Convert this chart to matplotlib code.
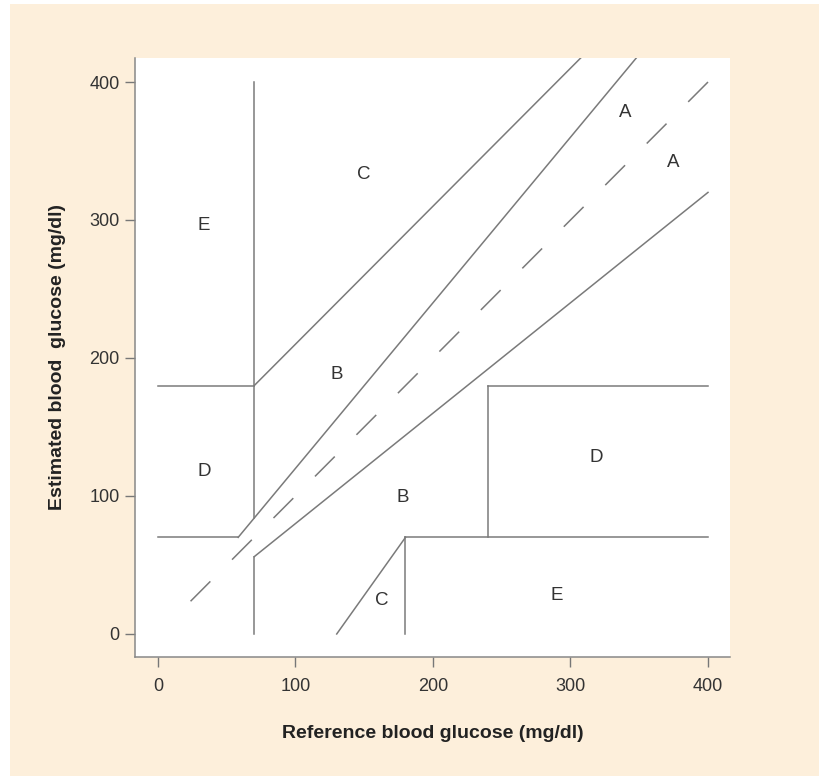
import numpy as np
import matplotlib
matplotlib.use("Agg")
import matplotlib.pyplot as plt
from matplotlib.patches import Rectangle

# Clarke error grid boundaries (reference, estimated)
seg_x = [
    [0, 58.33], [58.33, 400], [70, 70], [70, 70], [70, 400],
    [0, 70], [70, 330], [130, 180], [180, 400], [180, 180],
    [240, 240], [240, 400],
]
seg_y = [
    [70, 70], [70, 480], [84, 400], [0, 56], [56, 320],
    [180, 180], [180, 440], [0, 70], [70, 70], [0, 70],
    [70, 180], [180, 180],
]
diag = [400, 23]

zone_labels = ["E", "C", "A", "A", "B", "D", "B", "D", "C", "E"]
zone_x = [33, 150, 340, 375, 130, 34, 178, 319, 163, 290]
zone_y = [296, 333, 378, 342, 188, 118, 99, 128, 24, 28]

ticks = [0, 100, 200, 300, 400]

plt.rcParams['font.family'] = ['Liberation Sans', 'DejaVu Sans']

fig = plt.figure(figsize=(8.19, 7.8), dpi=100)
fig.patch.set_facecolor('white')
fig.patches.append(Rectangle((10 / 819, 4 / 780), 809 / 819, 772 / 780,
                             transform=fig.transFigure, facecolor='#fdefdb',
                             edgecolor='none', zorder=-10))

ax = fig.add_axes([135 / 819, 1 - 657 / 780, 595 / 819, 599 / 780])
ax.set_zorder(1)
ax.set_facecolor('white')

line_col = '#7a7a7a'
lw = 1.1
for xs, ys in zip(seg_x, seg_y):
    ax.plot(xs, ys, color=line_col, lw=lw)
# dash ~28px, gap ~31px, drawn from the top so the pattern starts at (400, 400)
ax.plot(diag, diag, color=line_col, lw=lw, linestyle=(0, (20.2 / lw, 22.1 / lw)))

for lab, x, y in zip(zone_labels, zone_x, zone_y):
    ax.text(x, y, lab, ha='center', va='center', fontsize=13.5, color='#333333')

ax.set_xlim(-16.7, 416)
ax.set_ylim(-16.7, 417.4)
ax.set_xticks(ticks)
ax.set_yticks(ticks)
ax.tick_params(direction='out', length=7, width=1, color='#777777',
               labelsize=13, labelcolor='#333333')
ax.tick_params(axis='x', pad=8)
ax.tick_params(axis='y', pad=4)
for s in ['top', 'right']:
    ax.spines[s].set_visible(False)
for s in ['left', 'bottom']:
    ax.spines[s].set_color('#888888')
    ax.spines[s].set_linewidth(1.1)

ax.set_xlabel('Reference blood glucose (mg/dl)', fontsize=14, fontweight='bold',
              color='#222222', labelpad=22)
ax.set_ylabel('Estimated blood  glucose (mg/dl)', fontsize=14, fontweight='bold',
              color='#222222', labelpad=17)

fig.savefig('out.png', dpi=100)
